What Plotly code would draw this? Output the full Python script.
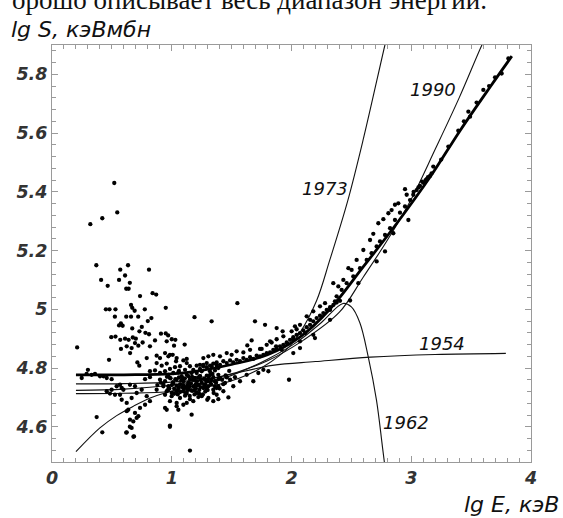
import plotly.graph_objects as go

# ---------------- data (lg E, keV ; lg S, keV*mb) ----------------
# measured points: low-energy scatter above the fit
low_e = [0.32, 0.42, 0.52, 0.545, 0.21, 0.37, 0.41, 0.465, 0.45, 0.48, 0.53, 0.525, 0.495,
         0.56, 0.57, 0.61, 0.635, 0.65, 0.62, 0.64, 0.81, 0.735, 0.84, 0.87, 0.95, 0.66, 0.67,
         0.69, 0.775, 0.72, 0.62, 0.66, 0.67, 0.75, 0.80, 0.83, 0.73, 0.78, 0.81, 0.56, 0.575,
         0.59, 0.53, 0.57, 0.61, 0.64, 0.675, 0.70, 0.91, 0.95, 0.97, 1.00, 1.03, 1.19]
low_s = [5.29, 5.31, 5.43, 5.33, 4.87, 5.15, 5.10, 5.08, 5.00, 5.00, 5.00, 4.975, 4.905,
         5.10, 5.135, 5.115, 5.15, 5.09, 5.07, 5.07, 5.135, 5.045, 5.055, 5.05, 5.005, 5.015, 5.005,
         4.995, 5.00, 4.975, 4.975, 4.975, 4.935, 4.94, 4.96, 4.97, 4.925, 4.92, 4.915, 4.945, 4.952,
         4.944, 4.907, 4.896, 4.90, 4.896, 4.904, 4.90, 4.917, 4.918, 4.911, 4.898, 4.896, 4.973]

# measured points: dense cluster around lg E ~ 1
clu_e = [0.576, 0.624, 0.665, 0.652, 0.721, 0.757, 0.818, 0.86, 0.958, 1.019, 1.108, 0.693, 0.476, 0.30, 0.373, 0.42,
         0.713, 0.729, 0.791, 0.874, 0.902, 0.972, 1.008, 1.041, 1.036, 1.097, 1.125, 0.874, 0.944, 0.985,
         0.916, 0.958, 0.985, 1.027, 1.069, 1.111, 1.152, 1.208, 1.264, 1.292, 1.333, 1.375, 0.818, 0.86, 0.902,
         0.944, 1.125, 1.18, 1.236, 1.319, 1.361, 1.389,
         0.972, 1.013, 1.055, 1.083, 1.125, 1.166, 1.208, 1.25, 0.985, 1.041, 1.097, 1.152, 1.194, 1.236, 1.292,
         1.347, 1.389, 0.902, 0.944, 1.292, 1.361, 0.818, 0.777,
         0.93, 0.972, 1.013, 1.055, 1.097, 1.138, 1.18, 1.222, 1.264, 1.305, 1.347, 1.389, 0.874, 0.958, 1.041,
         1.125, 1.208,
         0.944, 0.999, 1.069, 1.111, 1.152, 1.222, 1.297, 1.347, 1.375, 1.208, 1.25, 1.18, 1.041, 0.985, 0.944,
         0.958, 1.041, 1.055, 1.097, 1.125,
         0.498, 0.54, 0.568, 0.582, 0.624, 0.665, 0.707, 0.749, 0.791, 0.818, 0.637, 0.624, 0.693, 0.721, 0.651,
         0.679, 0.707, 0.665, 0.624, 0.685, 0.735, 0.777, 1.166, 0.985,
         0.248, 0.331, 0.401, 0.429, 0.457, 0.498, 0.568, 0.582, 0.596, 0.651, 0.693, 0.457, 0.484, 0.526, 0.289,
         0.359, 1.152, 0.62, 0.68, 0.65, 0.985,
         1.06, 1.09, 1.14, 1.17, 1.21, 1.24, 1.27, 1.31, 1.34, 1.02, 1.07, 1.12, 1.16, 1.20, 1.23, 1.28, 1.33,
         1.37, 1.00, 1.05, 1.10, 1.15, 1.19, 1.26, 1.30, 1.35, 1.40, 1.42, 1.45, 1.48]
clu_s = [4.865, 4.874, 4.868, 4.851, 4.876, 4.887, 4.874, 4.894, 4.891, 4.876, 4.88, 4.885, 4.828, 4.794, 4.633, 4.581,
         4.819, 4.808, 4.834, 4.842, 4.834, 4.84, 4.845, 4.834, 4.823, 4.826, 4.831, 4.817, 4.851, 4.845,
         4.808, 4.815, 4.797, 4.803, 4.806, 4.794, 4.806, 4.808, 4.811, 4.803, 4.806, 4.808, 4.789, 4.792, 4.783,
         4.789, 4.817, 4.794, 4.797, 4.789, 4.792, 4.80,
         4.777, 4.783, 4.785, 4.772, 4.777, 4.783, 4.783, 4.789, 4.766, 4.76, 4.755, 4.762, 4.766, 4.772, 4.774,
         4.769, 4.777, 4.76, 4.755, 4.755, 4.755, 4.769, 4.762,
         4.743, 4.738, 4.747, 4.732, 4.74, 4.726, 4.738, 4.743, 4.732, 4.738, 4.726, 4.738, 4.726, 4.721, 4.721,
         4.715, 4.717,
         4.709, 4.704, 4.698, 4.706, 4.694, 4.701, 4.692, 4.687, 4.709, 4.715, 4.704, 4.687, 4.681, 4.687, 4.664,
         4.658, 4.67, 4.658, 4.675, 4.681,
         4.726, 4.738, 4.709, 4.692, 4.681, 4.698, 4.715, 4.726, 4.704, 4.687, 4.658, 4.653, 4.647, 4.636, 4.624,
         4.618, 4.63, 4.596, 4.581, 4.567, 4.664, 4.675, 4.641, 4.604,
         4.766, 4.777, 4.772, 4.772, 4.766, 4.762, 4.743, 4.732, 4.726, 4.743, 4.738, 4.721, 4.713, 4.709, 4.78,
         4.78, 4.519, 4.58, 4.566, 4.60, 4.60,
         4.79, 4.765, 4.75, 4.77, 4.755, 4.76, 4.765, 4.77, 4.78, 4.73, 4.745, 4.735, 4.725, 4.73, 4.725, 4.72, 4.745,
         4.75, 4.715, 4.71, 4.72, 4.705, 4.71, 4.71, 4.725, 4.715, 4.73, 4.76, 4.775, 4.79]

# measured points: the black core of the cluster
core_e = [0.96, 0.99, 1.01, 1.03, 1.04, 1.06, 1.08, 1.09, 1.11, 1.13, 1.14, 1.16, 1.18, 1.20, 1.22, 1.25,
          1.28, 1.30, 1.32, 0.98, 1.00, 1.05, 1.07, 1.10, 1.12, 1.15, 1.17, 1.21, 1.24, 1.27, 1.29, 1.33,
          1.36, 1.39, 1.43, 1.46, 0.88, 0.91, 0.93, 0.97, 1.02, 1.06, 1.13, 1.19, 1.23]
core_s = [4.77, 4.765, 4.752, 4.762, 4.74, 4.768, 4.758, 4.735, 4.765, 4.742, 4.772, 4.748, 4.76, 4.745,
          4.768, 4.75, 4.745, 4.76, 4.752, 4.73, 4.742, 4.725, 4.718, 4.73, 4.712, 4.738, 4.722, 4.74, 4.735,
          4.742, 4.733, 4.76, 4.738, 4.762, 4.745, 4.768, 4.742, 4.75, 4.738, 4.727, 4.712, 4.735, 4.728,
          4.725, 4.712]

# measured points: rising branch
mid_e = [1.548, 1.333, 1.695, 1.779, 1.876, 1.926, 2.029, 2.043, 1.667, 1.631, 1.751, 1.834, 1.871, 1.918, 1.965,
         2.015, 2.071, 2.113, 2.155,
         1.236, 1.264, 1.292, 1.32, 1.347, 1.375, 1.403, 1.431, 1.459, 1.487, 1.514, 1.542, 1.57, 1.598, 1.626,
         1.654, 1.681, 1.709, 1.737, 1.765, 1.793, 1.821, 1.848, 1.876, 1.904, 1.932, 1.96, 1.988, 2.015, 2.043,
         2.071, 2.099, 2.127, 2.155, 2.182, 2.21, 2.238, 2.266, 2.294, 2.322, 2.35, 2.377, 2.405,
         1.236, 1.278, 1.32, 1.361, 1.403, 1.445, 1.487, 1.528, 1.57, 1.626, 1.681, 1.723, 1.765, 1.807, 1.292,
         1.375, 1.431, 1.514, 1.306, 1.389, 1.473, 1.979, 2.182, 2.196, 2.322, 2.071, 2.015,
         1.264, 1.306, 1.347, 1.403, 1.459, 1.50, 1.542, 1.598, 1.654, 1.737, 1.793, 1.821, 1.876, 1.932, 2.001,
         2.071, 2.127, 2.182, 2.238, 2.28]
mid_s = [5.021, 4.959, 4.959, 4.947, 4.936, 4.925, 4.942, 4.932, 4.894, 4.877, 4.865, 4.887, 4.874, 4.862, 4.883,
         4.898, 4.891, 4.919, 4.964,
         4.811, 4.806, 4.817, 4.808, 4.815, 4.819, 4.811, 4.823, 4.817, 4.826, 4.819, 4.828, 4.823, 4.834, 4.828,
         4.837, 4.831, 4.842, 4.84, 4.845, 4.851, 4.853, 4.862, 4.865, 4.874, 4.879, 4.887, 4.896, 4.905, 4.913,
         4.919, 4.928, 4.939, 4.947, 4.959, 4.97, 4.978, 4.987, 4.998, 5.007, 5.015, 5.023, 5.029,
         4.772, 4.76, 4.777, 4.755, 4.766, 4.749, 4.76, 4.769, 4.755, 4.777, 4.755, 4.783, 4.794, 4.789, 4.726,
         4.732, 4.721, 4.738, 4.698, 4.694, 4.70, 4.76, 4.913, 4.902, 4.964, 4.868, 4.851,
         4.834, 4.84, 4.845, 4.84, 4.851, 4.845, 4.857, 4.853, 4.862, 4.865, 4.879, 4.891, 4.898, 4.908, 4.925,
         4.947, 4.976, 4.993, 5.01, 5.021]

# measured points: high-energy branch
high_e = [2.349, 2.391, 2.433, 2.475, 2.502, 2.544, 2.60, 2.656, 2.683, 2.725, 2.767, 2.809, 2.836, 2.864, 2.892,
          2.948, 2.962, 2.363,
          2.322, 2.377, 2.419, 2.461, 2.516, 2.572, 2.628, 2.669, 2.711, 2.739, 2.781, 2.823, 2.864, 2.906, 2.948,
          2.99, 3.017, 3.045, 3.073, 3.101, 3.129, 3.157,
          2.85, 2.781, 2.711, 2.976, 2.489, 2.558, 3.02, 3.06, 3.09, 3.12, 3.14,
          3.17, 3.184, 3.31, 3.393, 3.477, 3.491, 3.546, 3.602, 3.755, 3.811, 3.25, 3.44, 3.65, 3.70]
high_s = [5.089, 5.078, 5.10, 5.14, 5.134, 5.168, 5.202, 5.236, 5.257, 5.293, 5.307, 5.327, 5.338, 5.356, 5.361,
          5.409, 5.39, 5.027,
          4.998, 5.044, 5.066, 5.089, 5.112, 5.14, 5.168, 5.191, 5.214, 5.231, 5.253, 5.276, 5.304, 5.329, 5.35,
          5.372, 5.39, 5.406, 5.42, 5.431, 5.443, 5.454,
          5.259, 5.197, 5.163, 5.304, 5.03, 5.089, 5.40, 5.415, 5.435, 5.44, 5.45,
          5.463, 5.486, 5.554, 5.608, 5.673, 5.656, 5.704, 5.747, 5.803, 5.854, 5.51, 5.64, 5.76, 5.79]

# fitted curves
fit_e = [0.2, 0.6, 1.0, 1.25, 1.5, 1.8, 2.07, 2.32, 2.6, 2.88, 3.16, 3.41, 3.66, 3.84]
fit_s = [4.777, 4.777, 4.78, 4.792, 4.812, 4.845, 4.905, 5.0, 5.145, 5.293, 5.452, 5.61, 5.758, 5.862]

c1954_e = [0.2, 0.6, 1.0, 1.4, 1.84, 2.2, 2.66, 3.2, 3.79]
c1954_s = [4.724, 4.728, 4.742, 4.77, 4.809, 4.822, 4.837, 4.846, 4.85]

c1962_e = [0.2, 0.4, 0.54, 0.68, 0.82, 0.95, 1.2, 1.5, 1.8, 2.05, 2.25, 2.43, 2.5, 2.57, 2.64, 2.71, 2.76, 2.8]
c1962_s = [4.515, 4.596, 4.638, 4.67, 4.698, 4.716, 4.74, 4.775, 4.83, 4.89, 4.955, 5.02, 5.008, 4.955, 4.84,
           4.69, 4.53, 4.40]

c1973_e = [0.2, 0.6, 1.0, 1.4, 1.7, 1.95, 2.07, 2.21, 2.32, 2.47, 2.6, 2.78, 2.85]
c1973_s = [4.713, 4.714, 4.72, 4.745, 4.79, 4.86, 4.92, 5.03, 5.168, 5.37, 5.58, 5.9, 6.02]

c1990_e = [0.2, 0.6, 1.0, 1.4, 1.8, 2.1, 2.4, 2.6, 2.8, 3.0, 3.2, 3.4, 3.59, 3.65]
c1990_s = [4.746, 4.747, 4.752, 4.77, 4.825, 4.895, 4.99, 5.11, 5.235, 5.375, 5.545, 5.72, 5.9, 5.95]

curve_labels = ["1954", "1962", "1973", "1990"]
label_e = [3.254, 2.955, 2.276, 3.184]
label_s = [4.883, 4.615, 5.413, 5.749]

x_ticks = [0, 1, 2, 3, 4]
y_ticks = [4.6, 4.8, 5.0, 5.2, 5.4, 5.6, 5.8]

# ---------------- figure ----------------
fig = go.Figure()

FONT = "DejaVu Sans"

for ce, cs in [(c1954_e, c1954_s), (c1962_e, c1962_s), (c1973_e, c1973_s), (c1990_e, c1990_s)]:
    fig.add_trace(go.Scatter(x=ce, y=cs, mode="lines",
                             line=dict(color="#111", width=1.1, shape="spline", smoothing=1.0),
                             hoverinfo="skip", showlegend=False))

fig.add_trace(go.Scatter(x=fit_e, y=fit_s, mode="lines",
                         line=dict(color="#000", width=2.8, shape="spline", smoothing=1.0),
                         showlegend=False))

pts_e = low_e + clu_e + core_e + mid_e + high_e
pts_s = low_s + clu_s + core_s + mid_s + high_s
fig.add_trace(go.Scatter(x=pts_e, y=pts_s, mode="markers",
                         marker=dict(color="#000", size=4.3, line=dict(width=0)),
                         showlegend=False))

for t, xe, ys in zip(curve_labels, label_e, label_s):
    fig.add_annotation(x=xe, y=ys, xref="x", yref="y", text=t, showarrow=False,
                       font=dict(family=FONT, size=18, style="italic", color="#111"))

# axis titles
fig.add_annotation(x=-0.09, y=1.038, xref="paper", yref="paper", xanchor="left", yanchor="middle",
                   text="lg S, кэВмбн", showarrow=False,
                   font=dict(family=FONT, size=22, style="italic", color="#111"))
fig.add_annotation(x=1.062, y=-0.103, xref="paper", yref="paper", xanchor="right", yanchor="middle",
                   text="lg E, кэВ", showarrow=False,
                   font=dict(family=FONT, size=22, style="italic", color="#111"))
# fragment of the page text above the figure
fig.add_annotation(x=-0.088, y=1.066, xref="paper", yref="paper", xanchor="left", yanchor="bottom",
                   text="орошо описывает весь диапазон энергии.", showarrow=False,
                   font=dict(family="Liberation Serif", size=27, color="#111"))

axis_common = dict(showline=True, linecolor="#9a9a9a", linewidth=1.2, mirror="allticks",
                   ticks="inside", ticklen=6, tickcolor="#9a9a9a", tickwidth=1,
                   showgrid=False, zeroline=False,
                   tickfont=dict(family=FONT, size=17.5, weight="bold", style="italic", color="#333"))

fig.update_xaxes(range=[0, 4], tickvals=x_ticks,
                 minor=dict(ticks="inside", dtick=0.1, tick0=0, ticklen=3.5, tickcolor="#9a9a9a"),
                 **axis_common)
fig.update_yaxes(range=[4.48, 5.9], tickvals=y_ticks,
                 minor=dict(ticks="inside", dtick=0.04, tick0=4.6, ticklen=3.5, tickcolor="#9a9a9a"),
                 **axis_common)

fig.update_layout(width=563, height=518, margin=dict(l=52, r=32, t=45, b=56),
                  paper_bgcolor="white", plot_bgcolor="white")

# the page has a default 8px body margin; remove it so the figure fills the window
fig.write_html("out.html", config={"displayModeBar": False},
               post_script="document.body.style.margin='0px';")
